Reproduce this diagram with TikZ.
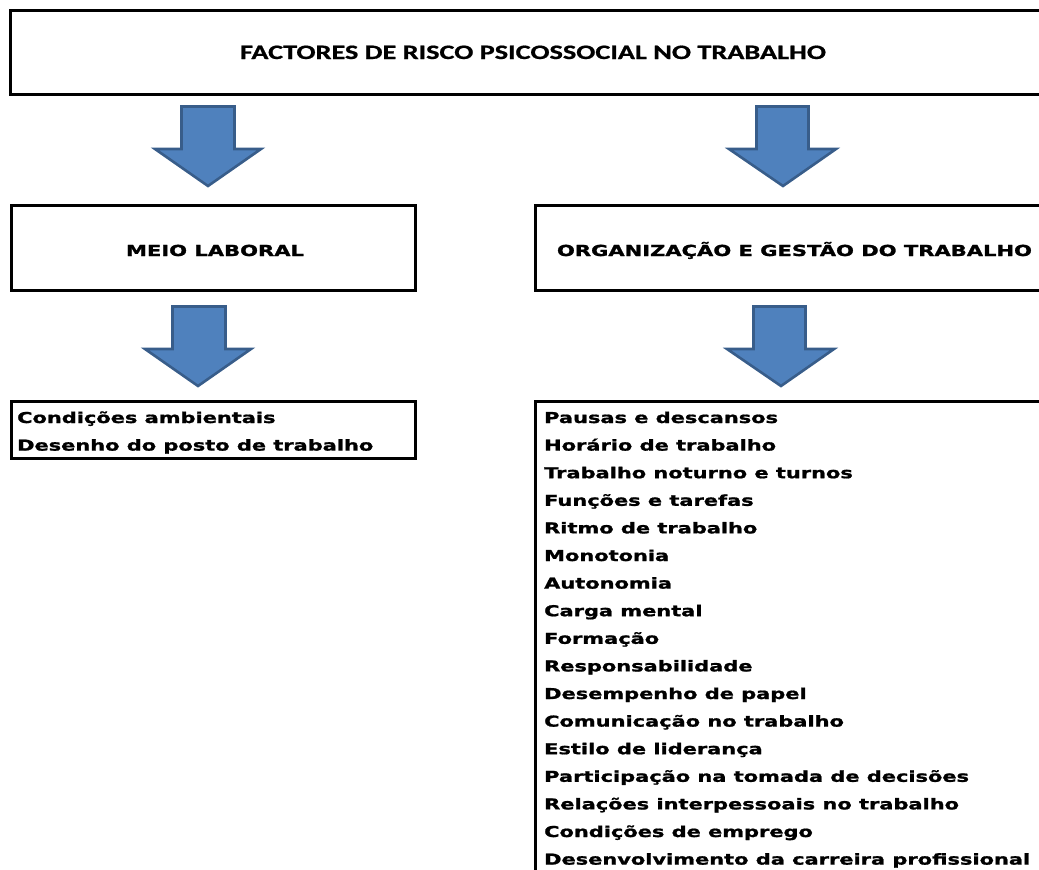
\documentclass[tikz,border=0pt]{standalone}
\usepackage{fontspec}
\usepackage{graphicx}
\newfontfamily\titlefont{Carlito}[BoldFont={* Bold}, BoldFeatures={FakeBold=0.8}]
\newfontfamily\vfont{DejaVu Sans}[BoldFeatures={FakeBold=1.2}]
\definecolor{arrowfill}{HTML}{4F81BD}
\definecolor{arrowline}{HTML}{385D8A}
\newlength\tmpw
\newcommand\hfit[2]{\settowidth\tmpw{#2}\pgfmathsetmacro\hs{#1/\tmpw}\scalebox{\hs}[1]{#2}}
\newcommand\listfnt{\vfont\bfseries\fontsize{15}{27.6}\selectfont}
\AtBeginDocument{\settowidth\tmpw{\listfnt Desenvolvimento da carreira profissional}\pgfmathsetmacro\lsx{486/\tmpw}\xdef\ls{\lsx}}
\tikzset{
  box/.style={draw=black, line width=3pt, inner sep=0pt},
  blockarrow/.style={fill=arrowfill, draw=arrowline, line width=2.6pt, line join=miter},
  txt/.style={inner sep=0pt, text=black},
}
\begin{document}
\begin{tikzpicture}[x=1pt,y=-1pt]
\useasboundingbox (0,0) rectangle (1039,870);
\clip (0,0) rectangle (1039,870);
% boxes
\node[box, minimum width=1046pt, minimum height=84pt] (top) at (533,52) {};
\node[box, minimum width=404pt, minimum height=85pt] (meio) at (213,247.5) {};
\node[box, minimum width=519pt, minimum height=85pt] (org) at (794.5,247.5) {};
\node[box, minimum width=404pt, minimum height=57pt] (lista) at (213,429.5) {};
\node[box, minimum width=525pt, minimum height=499pt] (listb) at (797.5,650.5) {};
% titles
\node[txt, anchor=base] (toptxt) at (533,59) {\hfit{586}{\titlefont\bfseries\fontsize{20.5}{24}\selectfont FACTORES DE RISCO PSICOSSOCIAL NO TRABALHO}};
\node[txt, anchor=base] (meiotxt) at (215,256) {\hfit{178}{\vfont\bfseries\fontsize{15.2}{20}\selectfont MEIO LABORAL}};
\node[txt, anchor=base] (orgtxt) at (794.5,256) {\hfit{475}{\vfont\bfseries\fontsize{15.2}{20}\selectfont ORGANIZAÇÃO E GESTÃO DO TRABALHO}};
% lists
\node[txt, anchor=base west] (listatxt) at (17,423) {\scalebox{\ls}[1]{\listfnt
\begin{tabular}[t]{@{}l@{}}
Condições ambientais\\
Desenho do posto de trabalho
\end{tabular}}};
\node[txt, anchor=base west] (listbtxt) at (544,423) {\scalebox{\ls}[1]{\listfnt
\begin{tabular}[t]{@{}l@{}}
Pausas e descansos\\
Horário de trabalho\\
Trabalho noturno e turnos\\
Funções e tarefas\\
Ritmo de trabalho\\
Monotonia\\
Autonomia\\
Carga mental\\
Formação\\
Responsabilidade\\
Desempenho de papel\\
Comunicação no trabalho\\
Estilo de liderança\\
Participação na tomada de decisões\\
Relações interpessoais no trabalho\\
Condições de emprego\\
Desenvolvimento da carreira profissional
\end{tabular}}};
% block arrows
\draw[blockarrow] (181.5,106.5) -- (234.5,106.5) -- (234.5,149) -- (261,149) -- (208,186) -- (155,149) -- (181.5,149) -- cycle;
\draw[blockarrow] (756.5,106.5) -- (808.5,106.5) -- (808.5,149) -- (836,149) -- (783,186) -- (729,149) -- (756.5,149) -- cycle;
\draw[blockarrow] (172.5,306.5) -- (225.5,306.5) -- (225.5,349) -- (251,349) -- (198,386) -- (145,349) -- (172.5,349) -- cycle;
\draw[blockarrow] (753.5,306.5) -- (805.5,306.5) -- (805.5,349) -- (834,349) -- (781,386) -- (727,349) -- (753.5,349) -- cycle;
\end{tikzpicture}
\end{document}
